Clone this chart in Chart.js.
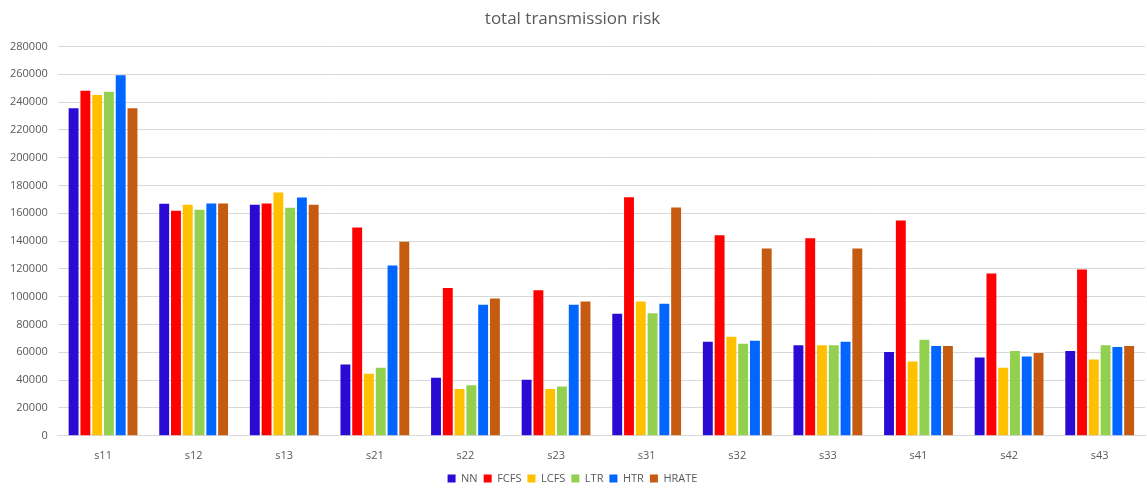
<!DOCTYPE html>
<html>
<head>
<meta charset="utf-8">
<script src="https://cdn.jsdelivr.net/npm/chart.js@4.4.0/dist/chart.umd.min.js"></script>
<style>
  html, body { margin: 0; padding: 0; background: #fff; }
  #wrap { width: 1147px; height: 491px; }
</style>
</head>
<body>
<div id="wrap"><canvas id="myChart"></canvas></div>
<script>
var scenarios = ['s11', 's12', 's13', 's21', 's22', 's23', 's31', 's32', 's33', 's41', 's42', 's43'];

var nn    = [235500, 166900, 166200, 51300, 41700, 40300, 87700, 67600, 65200, 60200, 56300, 60900];
var fcfs  = [248100, 161900, 167100, 149800, 106200, 104700, 171500, 144200, 142000, 154800, 116700, 119600];
var lcfs  = [245000, 166200, 175000, 44600, 33600, 33600, 96600, 71200, 65200, 53400, 48900, 54900];
var ltr   = [247400, 162600, 164000, 48900, 36400, 35500, 88200, 66200, 65200, 69100, 60900, 65200];
var htr   = [259300, 167100, 171400, 122500, 94200, 94200, 95000, 68400, 67600, 64500, 57000, 63800];
var hrate = [235500, 167100, 166200, 139500, 98800, 96600, 164200, 134600, 134600, 64500, 59500, 64500];

var yTicks = [0, 20000, 40000, 60000, 80000, 100000, 120000, 140000, 160000, 180000, 200000, 220000, 240000, 260000, 280000];

var font = "'Open Sans', 'Liberation Sans', sans-serif";

function series(label, data, color) {
    return {
        label: label,
        data: data,
        backgroundColor: color,
        borderColor: color,
        borderWidth: 0,
        categoryPercentage: 0.78,
        barPercentage: 0.84
    };
}

// keep the wider gaps between legend items without a taller legend box
var tightLegend = {
    id: 'tightLegend',
    beforeInit: function(chart) {
        var fit = chart.legend.fit;
        chart.legend.fit = function() {
            fit.call(this);
            this.height -= 3;
        };
    }
};

window.onload = function() {
    var ctx = document.getElementById('myChart').getContext('2d');
    var chart = new Chart(ctx, {
        type: 'bar',
        data: {
            labels: scenarios,
            datasets: [
                series('NN', nn, '#2A0BD4'),
                series('FCFS', fcfs, '#FF0000'),
                series('LCFS', lcfs, '#FFC000'),
                series('LTR', ltr, '#92D050'),
                series('HTR', htr, '#0066FF'),
                series('HRATE', hrate, '#C55A11')
            ]
        },
        plugins: [tightLegend],
        options: {
            responsive: true,
            maintainAspectRatio: false,
            animation: false,
            layout: { padding: { left: 0, right: 2, top: 4, bottom: 0 } },
            plugins: {
                title: {
                    display: true,
                    text: 'total transmission risk',
                    color: '#595959',
                    font: { family: font, size: 17, weight: 'normal' },
                    padding: { top: 5, bottom: 17 }
                },
                legend: {
                    position: 'bottom',
                    labels: {
                        color: '#595959',
                        font: { family: font, size: 11 },
                        boxWidth: 8,
                        boxHeight: 8,
                        padding: 6
                    }
                },
                tooltip: { enabled: false }
            },
            scales: {
                x: {
                    grid: { display: false },
                    border: { color: '#d9d9d9' },
                    ticks: {
                        color: '#595959',
                        font: { family: font, size: 11 },
                        padding: 5
                    }
                },
                y: {
                    min: 0,
                    max: 280000,
                    afterBuildTicks: function(axis) {
                        axis.ticks = yTicks.map(function(v) { return { value: v }; });
                    },
                    grid: { color: '#d9d9d9', drawTicks: false },
                    border: { display: false },
                    ticks: {
                        color: '#595959',
                        font: { family: font, size: 11 },
                        padding: 10,
                        callback: function(v) { return String(v); }
                    }
                }
            }
        }
    });
};
</script>
</body>
</html>
